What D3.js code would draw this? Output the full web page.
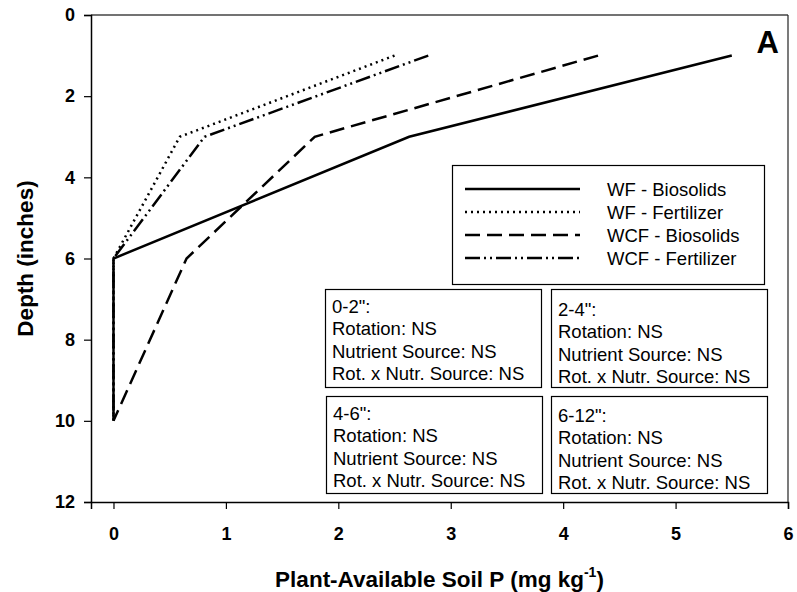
<!DOCTYPE html>
<html>
<head>
<meta charset="utf-8">
<script src="https://d3js.org/d3.v7.min.js"></script>
<style>
  body { margin: 0; background: #fff; }
  text { font-family: "Liberation Sans", Arial, sans-serif; }
</style>
</head>
<body>
<div id="chart"></div>
<script>
// depth (inches) of each point and soil P values per treatment
var depths = [1, 3, 6, 10];
var wfBiosolids = [5.5, 2.63, 0, 0];
var wfFertilizer = [2.5, 0.59, 0, 0];
var wcfBiosolids = [4.31, 1.79, 0.65, 0];
var wcfFertilizer = [2.8, 0.81, 0, 0];
var seriesNames = ["WF - Biosolids", "WF - Fertilizer", "WCF - Biosolids", "WCF - Fertilizer"];
var xTicks = [0, 1, 2, 3, 4, 5, 6];
var yTicks = [0, 2, 4, 6, 8, 10, 12];
var statBoxes = [
  ["0-2\":", "Rotation: NS", "Nutrient Source: NS", "Rot. x Nutr. Source: NS"],
  ["2-4\":", "Rotation: NS", "Nutrient Source: NS", "Rot. x Nutr. Source: NS"],
  ["4-6\":", "Rotation: NS", "Nutrient Source: NS", "Rot. x Nutr. Source: NS"],
  ["6-12\":", "Rotation: NS", "Nutrient Source: NS", "Rot. x Nutr. Source: NS"]
];

var W = 797, H = 592;
var margin = {top: 15, right: 9, bottom: 90, left: 91};
var width = W - margin.left - margin.right,
    height = H - margin.top - margin.bottom;

var svg = d3.select("#chart").append("svg")
    .attr("width", W).attr("height", H);
var g = svg.append("g")
    .attr("transform", "translate(" + margin.left + "," + margin.top + ")");

var x = d3.scaleLinear().domain([-0.2, 6]).range([0, width]);
var y = d3.scaleLinear().domain([0, 12]).range([0, height]);

// frame (top/right)
g.append("line").attr("x1", 0).attr("x2", width).attr("y1", 0).attr("y2", 0)
  .attr("stroke", "#444").attr("stroke-width", 1.5);
g.append("line").attr("x1", width).attr("x2", width).attr("y1", 0).attr("y2", height)
  .attr("stroke", "#222").attr("stroke-width", 1.2);

// axes
var xAxis = g.append("g").attr("transform", "translate(0," + height + ")")
  .call(d3.axisBottom(x).tickValues(xTicks).tickSize(7).tickPadding(18).tickFormat(d3.format("d")));
var yAxis = g.append("g")
  .call(d3.axisLeft(y).tickValues(yTicks).tickSize(7).tickPadding(9).tickFormat(d3.format("d")));
[xAxis, yAxis].forEach(function(a) {
  a.select(".domain").attr("stroke", "#000").attr("stroke-width", 1.5);
  a.selectAll(".tick line").attr("stroke", "#000").attr("stroke-width", 1.2);
  a.selectAll(".tick text").attr("fill", "#000")
    .style("font-size", "18px").style("font-weight", "bold")
    .style("font-family", "Liberation Sans, Arial, sans-serif");
});

// series
var dashes = [null, "2,4", "15,7", "15,4,2,4,2,4"];
var data = [wfBiosolids, wfFertilizer, wcfBiosolids, wcfFertilizer];
var line = d3.line().x(function(d) { return x(d[0]); }).y(function(d) { return y(d[1]); });

data.forEach(function(vals, i) {
  var pts = vals.map(function(v, j) { return [v, depths[j]]; });
  g.append("path").datum(pts)
    .attr("d", line)
    .attr("fill", "none")
    .attr("stroke", "#000")
    .attr("stroke-width", 2.5)
    .attr("stroke-dasharray", dashes[i]);
});

// legend
var leg = svg.append("g");
leg.append("rect").attr("x", 452.5).attr("y", 165.5).attr("width", 312).attr("height", 119)
  .attr("fill", "#fff").attr("stroke", "#000").attr("stroke-width", 1.2);
var legY = [189, 212, 235, 258];
seriesNames.forEach(function(name, i) {
  leg.append("line").attr("x1", 465).attr("x2", 580).attr("y1", legY[i]).attr("y2", legY[i])
    .attr("stroke", "#000").attr("stroke-width", 2.5).attr("stroke-dasharray", dashes[i]);
  leg.append("text").attr("x", 607).attr("y", legY[i] + 7).text(name)
    .style("font-size", "18.5px");
});

// stat boxes
var boxes = [
  {x: 325.5, y: 289.5, w: 216, h: 98, ty: 313},
  {x: 551.5, y: 289.5, w: 216, h: 98, ty: 316},
  {x: 326.5, y: 396.5, w: 216, h: 97, ty: 420},
  {x: 551.5, y: 396.5, w: 216, h: 97, ty: 422}
];
boxes.forEach(function(b, i) {
  svg.append("rect").attr("x", b.x).attr("y", b.y).attr("width", b.w).attr("height", b.h)
    .attr("fill", "#fff").attr("stroke", "#000").attr("stroke-width", 1.2);
  statBoxes[i].forEach(function(t, k) {
    svg.append("text").attr("x", b.x + 6.5).attr("y", b.ty + k * 22.3).text(t)
      .style("font-size", "18.5px");
  });
});

// panel label
svg.append("text").attr("x", 779).attr("y", 53).attr("text-anchor", "end")
  .text("A").style("font-size", "31px").style("font-weight", "bold");

// axis titles
var xt = svg.append("text").attr("x", margin.left + width / 2).attr("y", 587)
  .attr("text-anchor", "middle").style("font-size", "22.5px").style("font-weight", "bold");
xt.append("tspan").text("Plant-Available Soil P (mg kg");
xt.append("tspan").attr("dy", -10).style("font-size", "14px").text("-1");
xt.append("tspan").attr("dy", 10).text(")");

svg.append("text")
  .attr("transform", "translate(33," + (margin.top + height / 2) + ") rotate(-90)")
  .attr("text-anchor", "middle").style("font-size", "22.5px").style("font-weight", "bold")
  .text("Depth (inches)");
</script>
</body>
</html>
